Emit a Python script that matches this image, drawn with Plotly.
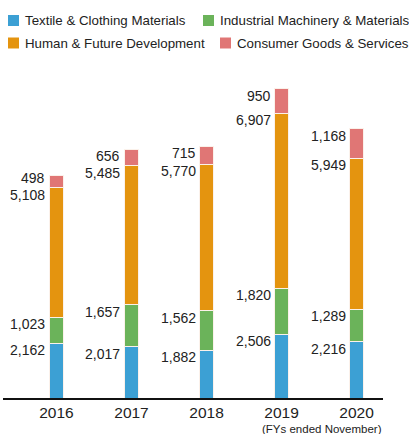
import plotly.graph_objects as go

years = ["2016", "2017", "2018", "2019", "2020"]
textile = [2162, 2017, 1882, 2506, 2216]
industrial = [1023, 1657, 1562, 1820, 1289]
human = [5108, 5485, 5770, 6907, 5949]
consumer = [498, 656, 715, 950, 1168]

series = [
    ("Textile & Clothing Materials", textile, "#3ca0d4"),
    ("Industrial Machinery & Materials", industrial, "#6bb35a"),
    ("Human & Future Development", human, "#e4940f"),
    ("Consumer Goods & Services", consumer, "#e07675"),
]

FONT = "Liberation Sans, Arial, Helvetica, sans-serif"
W, H = 409, 434
ML, MR, MT, MB = 3, 26, 60, 36
PW, PH = W - ML - MR, H - MT - MB
YMAX = 13326
PX_PER_UNIT = PH / YMAX


def px_x(p):
    return (p - ML) / PW


def px_y(p):
    return (H - MB - p) / PH


fig = go.Figure()
for name, vals, color in series:
    fig.add_trace(go.Bar(
        x=years, y=vals, name=name,
        marker=dict(color=color, line=dict(color="#fbf1ea", width=1)),
        width=0.19, showlegend=False,
    ))

# value labels to the left of each segment, just below its top;
# labels on thin segments are nudged up so they keep clear of the one below
annotations = []
base = [0] * len(years)
last_label_px = [-1e9] * len(years)
for name, vals, color in series:
    for i, v in enumerate(vals):
        base[i] += v
        top_px = base[i] * PX_PER_UNIT
        label_px = max(top_px - 7, last_label_px[i] + 17)
        last_label_px[i] = label_px
        annotations.append(dict(
            x=i, y=base[i], xref="x", yref="y",
            text=f"{v:,}", showarrow=False,
            xanchor="right", yanchor="middle",
            xshift=-9, yshift=label_px - top_px,
            font=dict(family=FONT, size=14, color="#222"),
        ))

annotations.append(dict(
    x=px_x(384), y=px_y(429), xref="paper", yref="paper",
    text="(FYs ended November)", showarrow=False,
    xanchor="right", yanchor="middle",
    font=dict(family=FONT, size=11.5, color="#222"),
))

# legend: two rows, entries flowing left to right
legend_slots = [(8, 20.5), (203, 20.5), (8, 43), (220, 43)]
shapes = []
for (name, vals, color), (lx, ly) in zip(series, legend_slots):
    shapes.append(dict(
        type="rect", xref="paper", yref="paper",
        x0=px_x(lx), x1=px_x(lx + 11), y0=px_y(ly - 5.5), y1=px_y(ly + 5.5),
        fillcolor=color, line=dict(width=0),
    ))
    annotations.append(dict(
        x=px_x(lx + 15), y=px_y(ly), xref="paper", yref="paper",
        text=name, showarrow=False, xanchor="left", yanchor="middle",
        font=dict(family=FONT, size=13.3, color="#222"),
    ))

fig.update_layout(
    width=W, height=H,
    barmode="stack",
    paper_bgcolor="white", plot_bgcolor="white",
    margin=dict(l=ML, r=MR, t=MT, b=MB),
    font=dict(family=FONT, size=14, color="#222"),
    annotations=annotations,
    shapes=shapes,
    showlegend=False,
)
fig.update_xaxes(
    type="category",
    range=[-0.713, 4.353], showline=True, linecolor="#111", linewidth=1.5,
    ticks="", tickfont=dict(family=FONT, size=15.5, color="#222"),
    showgrid=False, fixedrange=True,
)
fig.update_yaxes(range=[0, YMAX], visible=False, showgrid=False, fixedrange=True)

fig.write_html("out.html")
